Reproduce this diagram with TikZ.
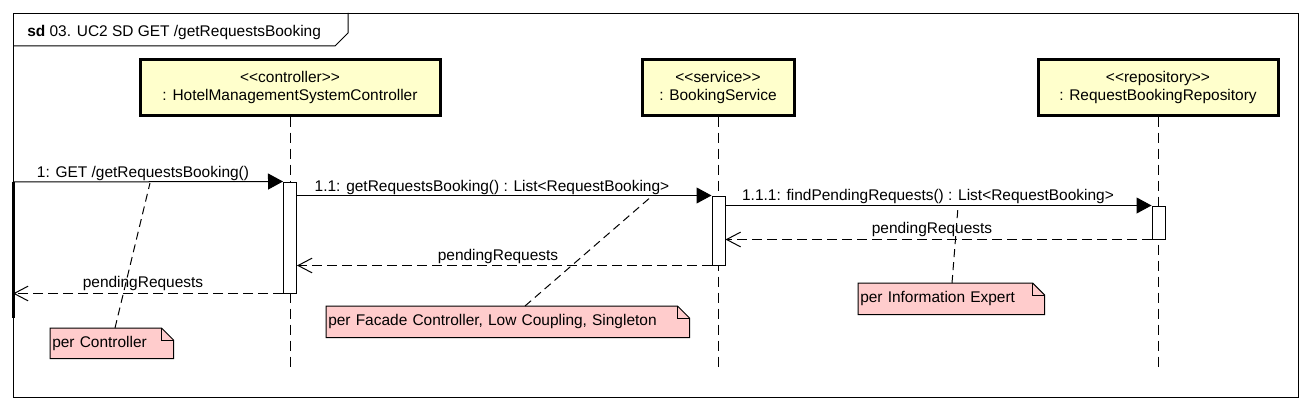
\documentclass[tikz,border=0pt]{standalone}
\usepackage{fontspec}
\setmainfont{Liberation Sans}
\usetikzlibrary{arrows.meta,calc,backgrounds}
\definecolor{lifefill}{RGB}{255,255,204}
\definecolor{notefill}{RGB}{255,204,204}
\newcommand{\drawnotebox}[1]{%
  \begin{pgfonlayer}{background}
  \draw[notebox] (#1.north west) -- ($(#1.north east)+(-9pt,0pt)$) -- ($(#1.north east)+(0pt,-9pt)$) -- (#1.south east) -- (#1.south west) -- cycle;
  \draw[line width=0.75pt] ($(#1.north east)+(-9pt,0pt)$) -- ($(#1.north east)+(-9pt,-9pt)$) -- ($(#1.north east)+(0pt,-9pt)$);
  \end{pgfonlayer}}
\begin{document}
\begin{tikzpicture}[x=0.75pt,y=-0.75pt,
  font=\fontsize{11.6}{13}\selectfont,
  lifebox/.style={draw, line width=2.25pt, fill=lifefill, align=center, inner sep=0pt,
    minimum height=41.25pt, font=\fontsize{11.6}{12.9}\selectfont},
  actbar/.style={draw, line width=0.75pt, fill=white, inner sep=0pt, minimum width=9.75pt},
  lifeline/.style={line width=0.75pt, dash pattern=on 7.5pt off 4.5pt},
  sync/.style={line width=0.75pt, -{Triangle[length=11.25pt,width=12pt]}},
  ret/.style={line width=0.75pt, dash pattern=on 7.5pt off 3.75pt, -{Straight Barb[length=10.5pt,width=11pt]}},
  msglabel/.style={anchor=base, inner sep=0pt},
  notetext/.style={anchor=north west, inner xsep=1.5pt, inner ysep=0pt, align=left},
  notebox/.style={draw, line width=0.75pt, fill=notefill},
  notelink/.style={line width=0.75pt, dash pattern=on 6pt off 3.75pt}
  ]
\useasboundingbox (0,0) rectangle (1312,410);
% frame
\node[draw, line width=0.75pt, minimum width=963.75pt, minimum height=288pt, anchor=north west, inner sep=0pt] (frame) at (13,13) {};
\draw[line width=0.75pt] ($(frame.north west)+(0,33)$) -- ++(322,0) -- ++(13,-13) -- ++(0,-20);
\node[anchor=base west, inner sep=0pt] (title) at (27,37) {\textbf{sd} 03. UC2 SD GET /getRequestsBooking};

% lifeline heads
\node[lifebox, minimum width=225pt] (ctrl) at (290,87.5) {{<}{<}controller{>}{>}\\: HotelManagementSystemController};
\node[lifebox, minimum width=114pt] (serv) at (718,87.5) {{<}{<}service{>}{>}\\: BookingService};
\node[lifebox, minimum width=180pt] (repo) at (1158,87.5) {{<}{<}repository{>}{>}\\: RequestBookingRepository};

% lifelines
\draw[lifeline] (ctrl.south) -- ++(0,256);
\draw[lifeline] (serv.south) -- ++(0,256);
\draw[lifeline] (repo.south) -- ++(0,256);

% activation bars
\node[actbar, minimum height=83.25pt] (a1) at (290,237.5) {};
\node[actbar, minimum height=51.75pt] (a2) at (718.5,230.5) {};
\node[actbar, minimum height=24.75pt] (a3) at (1158.5,222.5) {};

% gate
\coordinate (gate) at (13,182);
\draw[line width=2.25pt] (gate) -- ++(0,136);

% messages
\draw[sync] (gate) -- (a1.north west);
\node[msglabel] (l1) at (143,177) {1: GET /getRequestsBooking()};
\draw[sync] ($(a1.north east)+(0,14)$) -- (a2.north west);
\node[msglabel] (l2) at (492,191) {1.1: getRequestsBooking() : List<RequestBooking>};
\draw[sync] ($(a2.north east)+(0,10)$) -- (a3.north west);
\node[msglabel] (l3) at (928,200) {1.1.1: findPendingRequests() : List<RequestBooking>};
\draw[ret] (a3.south west) -- (a2.east |- a3.south west);
\node[msglabel] (l4) at (932,233) {pendingRequests};
\draw[ret] (a2.south west) -- (a1.east |- a2.south west);
\node[msglabel] (l5) at (498,260) {pendingRequests};
\draw[ret] (a1.south west) -- (gate |- a1.south west);
\node[msglabel] (l6) at (143,287) {pendingRequests};

% notes
\node[notetext, text width=89.25pt, minimum height=22.5pt] (n1) at (50,328) {per Controller};
\drawnotebox{n1}
\node[notetext, text width=269.25pt, minimum height=23.25pt] (n2) at (326,306) {per Facade Controller, Low Coupling, Singleton};
\drawnotebox{n2}
\node[notetext, text width=136.5pt, minimum height=23.25pt] (n3) at (858,283) {per Information Expert};
\drawnotebox{n3}

\coordinate (t1) at (150,183);
\coordinate (t2) at (652,196);
\coordinate (t3) at (958,207);
\draw[notelink] ($(n1.north west)+(65,0)$) -- (t1);
\draw[notelink] ($(n2.north west)+(199,0)$) -- (t2);
\draw[notelink] ($(n3.north west)+(94,0)$) -- (t3);
\end{tikzpicture}
\end{document}
